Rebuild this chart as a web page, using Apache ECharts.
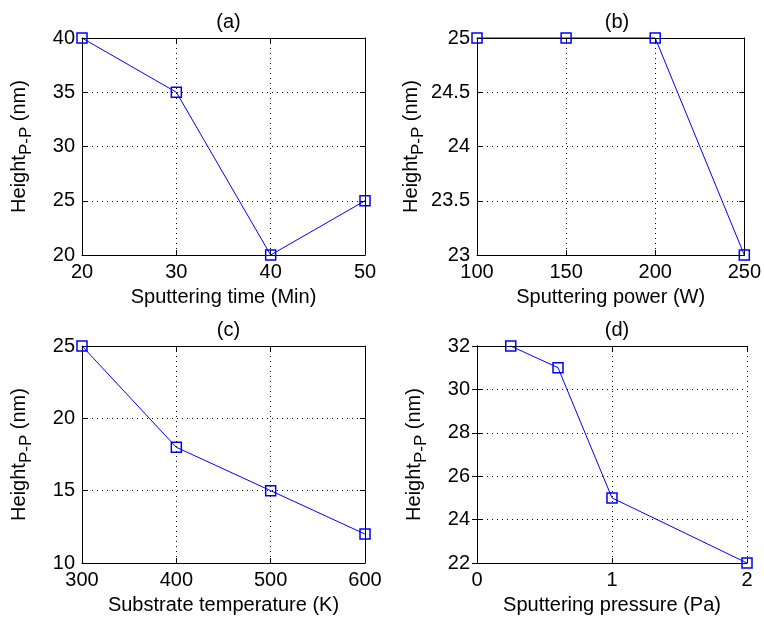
<!DOCTYPE html>
<html><head><meta charset="utf-8">
<script src="https://cdn.jsdelivr.net/npm/echarts@6/dist/echarts.min.js"></script>
<style>html,body{margin:0;padding:0;background:#fff}#c{width:764px;height:623px}</style>
</head><body><div id="c"></div>
<script>
// Data
const timeX = [20, 30, 40, 50];
const timeY = [40, 35, 20, 25];
const powerX = [100, 150, 200, 250];
const powerY = [25, 25, 25, 23];
const tempX = [300, 400, 500, 600];
const tempY = [25, 18, 15, 12];
const pressX = [0.25, 0.6, 1, 2];
const pressY = [32, 31, 25, 22];

const panelTitles = ['(a)', '(b)', '(c)', '(d)'];
const xNames = ['Sputtering time (Min)', 'Sputtering power (W)', 'Substrate temperature (K)', 'Sputtering pressure (Pa)'];
// tick ranges [min, max, interval]
const xTicks = [[20, 50, 10], [100, 250, 50], [300, 600, 100], [0, 2, 1]];
const yTicks = [[20, 40, 5], [23, 25, 0.5], [10, 25, 5], [22, 32, 2]];

const panelsX = [timeX, powerX, tempX, pressX];
const panelsY = [timeY, powerY, tempY, pressY];

const FONT = 'Liberation Sans';
const grids = [
  {left: 82, top: 38, width: 283, height: 217},
  {left: 477, top: 38, width: 270, height: 217},
  {left: 82, top: 346, width: 283, height: 217},
  {left: 477, top: 346, width: 270, height: 217}
];

const xAxes = [], yAxes = [], series = [], titles = [];
const dotted = {color: '#000', width: 1, type: [1, 4]};
for (let i = 0; i < 4; i++) {
  const [xmin, xmax, xint] = xTicks[i];
  const [ymin, ymax, yint] = yTicks[i];
  xAxes.push({
    type: 'value', gridIndex: i, min: xmin, max: xmax, interval: xint,
    position: 'bottom', z: 3,
    name: xNames[i], nameLocation: 'middle', nameGap: 32,
    nameTextStyle: {fontFamily: FONT, fontSize: 20, color: '#000'},
    axisLine: {show: true, lineStyle: {color: '#000', width: 1}},
    axisTick: {show: true, inside: true, length: 5, lineStyle: {color: '#000'}},
    axisLabel: {fontFamily: FONT, fontSize: 20, color: '#000', margin: 7, showMinLabel: true, showMaxLabel: true},
    splitLine: {show: true, lineStyle: dotted}
  });
  yAxes.push({
    type: 'value', gridIndex: i, min: ymin, max: ymax, interval: yint,
    position: 'left', z: 3,
    name: '{m|Height}{s|P-P}{m| (nm)}', nameLocation: 'middle', nameGap: 47,
    nameTextStyle: {
      fontFamily: FONT, fontSize: 20, color: '#000',
      rich: {
        m: {fontFamily: FONT, fontSize: 20, color: '#000'},
        s: {fontFamily: FONT, fontSize: 17, color: '#000', padding: [14, 0, 0, 0]}
      }
    },
    axisLine: {show: true, lineStyle: {color: '#000', width: 1}},
    axisTick: {show: true, inside: true, length: 5, lineStyle: {color: '#000'}},
    axisLabel: {fontFamily: FONT, fontSize: 20, color: '#000', margin: 7, showMinLabel: true, showMaxLabel: true},
    splitLine: {show: true, lineStyle: dotted}
  });
  titles.push({
    text: panelTitles[i], left: grids[i].left + grids[i].width / 2, textAlign: 'center',
    top: grids[i].top - 31,
    textStyle: {fontFamily: FONT, fontSize: 20, fontWeight: 'normal', color: '#000'}
  });
  const pts = panelsX[i].map((x, k) => [x, panelsY[i][k]]);
  // connecting line (drawn under the axes box)
  series.push({
    type: 'line', xAxisIndex: i, yAxisIndex: i, data: pts,
    showSymbol: false, symbol: 'none', clip: false,
    lineStyle: {color: '#0000ff', width: 1},
    emphasis: {disabled: true}, animation: false, z: 1
  });
  // square markers (drawn above the axes box)
  series.push({
    type: 'scatter', xAxisIndex: i, yAxisIndex: i, data: pts,
    symbol: 'rect', symbolSize: 10, clip: false,
    itemStyle: {color: 'rgba(0,0,0,0)', borderColor: '#0000ff', borderWidth: 1.5, opacity: 1},
    emphasis: {disabled: true}, animation: false, z: 10
  });
}
// opposite-side axes (box ticks)
for (let i = 0; i < 4; i++) {
  const [xmin, xmax, xint] = xTicks[i];
  const [ymin, ymax, yint] = yTicks[i];
  xAxes.push({
    type: 'value', gridIndex: i, min: xmin, max: xmax, interval: xint, position: 'top', z: 3,
    axisLine: {show: true, lineStyle: {color: '#000', width: 1}},
    axisTick: {show: true, inside: true, length: 5, lineStyle: {color: '#000'}},
    axisLabel: {show: false}, splitLine: {show: false}
  });
  yAxes.push({
    type: 'value', gridIndex: i, min: ymin, max: ymax, interval: yint, position: 'right', z: 3,
    axisLine: {show: true, lineStyle: {color: '#000', width: 1}},
    axisTick: {show: true, inside: true, length: 5, lineStyle: {color: '#000'}},
    axisLabel: {show: false}, splitLine: {show: false}
  });
}

const chart = echarts.init(document.getElementById('c'), null, {renderer: 'canvas'});
chart.setOption({
  backgroundColor: '#fff',
  animation: false,
  title: titles,
  grid: grids,
  xAxis: xAxes,
  yAxis: yAxes,
  series: series
});
</script>
</body></html>
